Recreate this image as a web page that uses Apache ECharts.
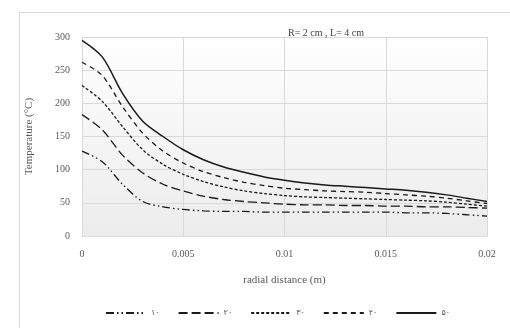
<!DOCTYPE html>
<html>
<head>
<meta charset="utf-8">
<script src="https://cdn.jsdelivr.net/npm/echarts@6/dist/echarts.min.js"></script>
<style>
html, body { margin: 0; padding: 0; background: #fff; }
#main { width: 510px; height: 328px; }
</style>
</head>
<body>
<div id="main"></div>
<script>
var xValues = [0, 0.001, 0.002, 0.003, 0.004, 0.005, 0.006, 0.007, 0.008, 0.009, 0.01,
    0.011, 0.012, 0.013, 0.014, 0.015, 0.016, 0.017, 0.018, 0.019, 0.02]
var seriesNames = ['۱۰', '۲۰', '۳۰', '۴۰', '۵۰']
var s10 = [128, 112, 78, 52, 44, 40, 38, 37, 37, 36, 36, 36, 36, 36, 36, 36, 35, 35, 34, 32, 30]
var s20 = [183, 160, 122, 95, 78, 68, 60, 55, 52, 50, 48, 47, 47, 46, 46, 45, 45, 44, 44, 43, 42]
var s30 = [227, 203, 165, 130, 108, 93, 82, 74, 68, 64, 61, 59, 58, 57, 56, 55, 54, 53, 51, 48, 45]
var s40 = [262, 242, 195, 155, 128, 110, 97, 88, 81, 76, 72, 70, 68, 67, 66, 64, 62, 60, 57, 53, 49]
var s50 = [295, 270, 215, 173, 150, 130, 115, 104, 96, 89, 84, 80, 77, 75, 73, 71, 69, 66, 62, 57, 52]
var yTicks = [0, 50, 100, 150, 200, 250, 300]
var xTicks = [0, 0.005, 0.01, 0.015, 0.02]

function pairs(vals) {
    return xValues.map(function (x, i) { return [x, vals[i]] })
}

var dashes = [[8, 3, 1.5, 3, 1.5, 3], [9, 4], [3, 2], [5, 4], 'solid']
var allData = [s10, s20, s30, s40, s50]

var chart = echarts.init(document.getElementById('main'))
var serif = '"Liberation Serif", "DejaVu Serif", serif'

var option = {
    animation: false,
    backgroundColor: '#fff',
    graphic: [{
        type: 'rect',
        shape: { x: 19.5, y: 12.5, width: 520, height: 330 },
        style: { fill: 'none', stroke: '#d9d9d9', lineWidth: 1 },
        silent: true
    }],
    title: {
        text: 'R= 2 cm , L= 4 cm',
        left: 283,
        top: 23,
        textStyle: { fontFamily: serif, fontSize: 10, fontWeight: 'normal', color: '#404040' }
    },
    grid: {
        left: 82,
        top: 37,
        width: 405,
        height: 199,
        show: true,
        borderWidth: 0,
        backgroundColor: new echarts.graphic.LinearGradient(0, 0, 0, 1, [
            { offset: 0, color: '#ffffff' },
            { offset: 1, color: '#ececec' }
        ])
    },
    legend: {
        data: seriesNames,
        top: 304,
        left: 100,
        itemWidth: 40,
        itemHeight: 8,
        itemGap: 18,
        itemStyle: { opacity: 0 },
        textStyle: { fontFamily: '"DejaVu Sans", sans-serif', fontSize: 8, color: '#595959' }
    },
    xAxis: {
        type: 'value',
        min: xTicks[0],
        max: xTicks[xTicks.length - 1],
        interval: 0.005,
        name: 'radial distance (m)',
        nameLocation: 'middle',
        nameGap: 39,
        nameTextStyle: { fontFamily: serif, fontSize: 11, color: '#595959' },
        axisLine: { lineStyle: { color: '#d9d9d9' } },
        axisTick: { show: false },
        axisLabel: { margin: 13, fontFamily: serif, fontSize: 10, color: '#595959' },
        splitLine: { lineStyle: { color: '#d9d9d9', width: 1 } }
    },
    yAxis: {
        type: 'value',
        min: yTicks[0],
        max: yTicks[yTicks.length - 1],
        interval: 50,
        name: 'Temperature (°C)',
        nameLocation: 'middle',
        nameGap: 47,
        nameTextStyle: { fontFamily: serif, fontSize: 11, color: '#595959' },
        axisLine: { show: true, lineStyle: { color: '#d9d9d9' } },
        axisTick: { show: false },
        axisLabel: { margin: 12, fontFamily: serif, fontSize: 10, color: '#595959' },
        splitLine: { lineStyle: { color: '#d9d9d9', width: 1 } }
    },
    series: seriesNames.map(function (name, i) {
        return {
            name: name,
            type: 'line',
            smooth: 0.3,
            symbol: 'none',
            color: '#1a1a1a',
            lineStyle: { color: '#1a1a1a', width: i === 4 ? 1.5 : 1.3, type: dashes[i] },
            data: pairs(allData[i])
        }
    })
}
chart.setOption(option)
</script>
</body>
</html>
